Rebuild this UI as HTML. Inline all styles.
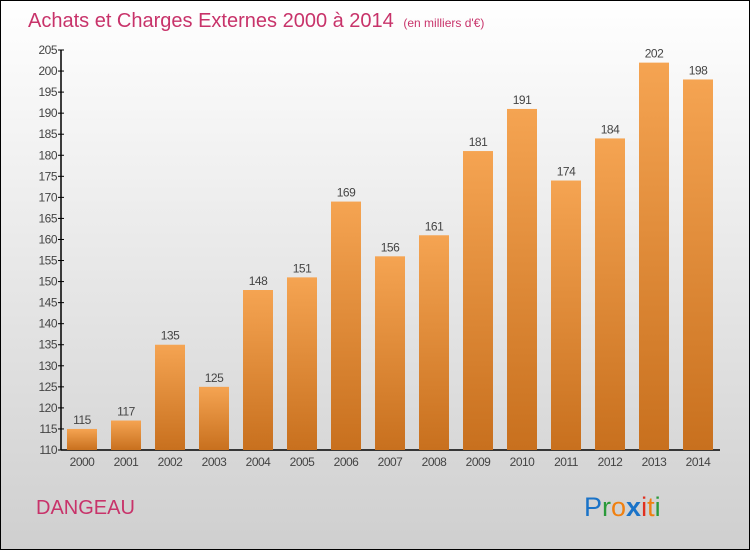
<!DOCTYPE html>
<html><head><meta charset="utf-8"><style>
body{margin:0;width:750px;height:550px;overflow:hidden}
svg{display:block;font-family:"Liberation Sans",sans-serif}
</style></head><body>
<svg id="c" width="750" height="550">
<defs>
<linearGradient id="bg" x1="0" y1="0" x2="0" y2="1"><stop offset="0" stop-color="#ffffff"/><stop offset="1" stop-color="#cfcfcf"/></linearGradient>
<linearGradient id="bar" x1="0" y1="0" x2="0" y2="1"><stop offset="0" stop-color="#f5a452"/><stop offset="1" stop-color="#c8701e"/></linearGradient>
</defs>
<rect x="0.5" y="0.5" width="749" height="549" fill="url(#bg)" stroke="#000"/>
<text x="28" y="27" font-size="20" fill="#c8336a">Achats et Charges Externes 2000 à 2014 <tspan font-size="12" dx="4">(en milliers d'€)</tspan></text>
<text x="36" y="514" font-size="20" fill="#c8336a">DANGEAU</text>
<g font-size="27">
<text x="584" y="516" fill="#1a73c8">P<tspan fill="#2a9a3a">r</tspan><tspan fill="#f08010">o</tspan><tspan fill="#1a73c8" font-weight="bold">x</tspan><tspan fill="#e03020">i</tspan><tspan fill="#f08010">t</tspan><tspan fill="#2a9a3a">i</tspan></text>
</g>
<g id="axes"></g>
<g id="bars"></g>
</svg>
<script>
const years=["2000","2001","2002","2003","2004","2005","2006","2007","2008","2009","2010","2011","2012","2013","2014"];
const values=[115,117,135,125,148,151,169,156,161,181,191,174,184,202,198];
const ticks=[110,115,120,125,130,135,140,145,150,155,160,165,170,175,180,185,190,195,200,205];
const NS="http://www.w3.org/2000/svg";
const y0=450,yTop=50,vMin=110,vMax=205,x0=61,step=44,first=82,bw=30;
const Y=v=>y0-(v-vMin)*(y0-yTop)/(vMax-vMin);
const X=i=>first+i*step;
function mk(t,a,p){const e=document.createElementNS(NS,t);for(const k in a)e.setAttribute(k,a[k]);p.appendChild(e);return e;}
const ax=document.getElementById('axes'),bg=document.getElementById('bars');
const yl=mk('line',{x1:x0,y1:yTop,x2:x0,y2:y0,stroke:'#000','stroke-width':1.5},ax);


const xl=mk('line',{x1:x0,y1:y0,x2:720,y2:y0,stroke:'#000','stroke-width':1.5},ax);


ticks.forEach(t=>{
 mk('line',{x1:x0-3,y1:Y(t),x2:x0+3,y2:Y(t),stroke:'#000'},ax);
 const tx=mk('text',{x:x0-4,y:Y(t)+4,'font-size':12,fill:'#444','text-anchor':'end','letter-spacing':'-0.5'},ax);
 tx.textContent=t;
 
 
});
values.forEach((v,i)=>{
 const r=mk('rect',{x:X(i)-bw/2,y:Y(v),width:bw,height:y0-Y(v),fill:'url(#bar)'},bg);
 
 
 const l=mk('text',{x:X(i),y:Y(v)-5,'font-size':12,fill:'#444','text-anchor':'middle','letter-spacing':'-0.5'},bg);
 l.textContent=v;
 
 
 const xt=mk('text',{x:X(i),y:466,'font-size':12,fill:'#444','text-anchor':'middle','letter-spacing':'-0.5'},bg);
 xt.textContent=years[i];
 
 
});
</script>
</body></html>
